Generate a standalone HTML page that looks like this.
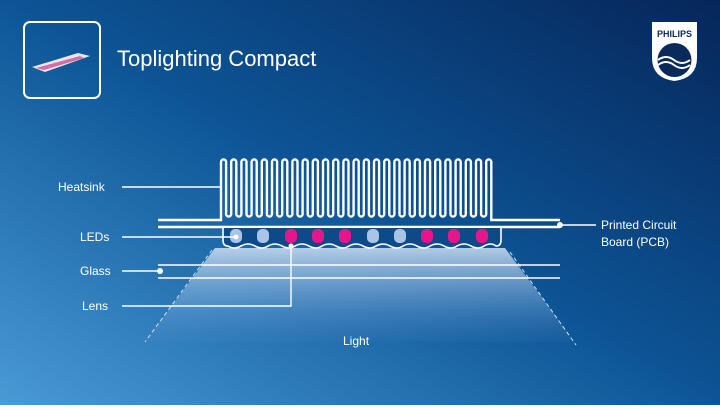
<!DOCTYPE html>
<html><head><meta charset="utf-8"><style>
html,body{margin:0;padding:0}
body{width:720px;height:405px;overflow:hidden;font-family:"Liberation Sans",sans-serif}
</style></head><body>
<svg width="720" height="405" viewBox="0 0 720 405" xmlns="http://www.w3.org/2000/svg">
<defs>
<linearGradient id="bg" x1="1" y1="0" x2="0" y2="1">
<stop offset="0" stop-color="#06265a"/>
<stop offset="0.5" stop-color="#0d5596"/>
<stop offset="1" stop-color="#4a9ad6"/>
</linearGradient>
<linearGradient id="lt" x1="0" y1="0" x2="0" y2="1">
<stop offset="0" stop-color="#dbe9f8" stop-opacity="0.8"/>
<stop offset="0.5" stop-color="#9cc0e6" stop-opacity="0.45"/>
<stop offset="1" stop-color="#6aa0d8" stop-opacity="0.05"/>
</linearGradient>
</defs>
<rect width="720" height="405" fill="url(#bg)"/>
<!-- title box -->
<rect x="24" y="22" width="76" height="76" rx="6" fill="none" stroke="#fff" stroke-width="2"/>
<polygon points="32,67 78,53 90,56 45,72" fill="#e8e8ea"/>
<polygon points="36,68 80,56 84,58 44,70" fill="#d86aa8"/>
<text x="117" y="66" fill="#fff" font-size="22" font-weight="300">Toplighting Compact</text>
<!-- philips shield -->
<path d="M652,22 H697 V58 Q697,78 674.5,81 Q652,78 652,58 Z" fill="#fff"/>
<text x="674.5" y="37" fill="#0a2a5c" font-size="9" font-weight="bold" text-anchor="middle">PHILIPS</text>
<circle cx="674.5" cy="60" r="17" fill="#0a2a5c"/>
<path d="M658,60 q8,-6 16,0 t16,0 M658,65 q8,-6 16,0 t16,0" stroke="#fff" stroke-width="2" fill="none"/>
<!-- light cone -->
<polygon points="215,248 505,248 575,342 145,342" fill="url(#lt)"/>
<line x1="212" y1="250" x2="145" y2="342" stroke="#cfe0f3" stroke-width="1" stroke-dasharray="4,3"/>
<line x1="510" y1="252" x2="576" y2="345" stroke="#cfe0f3" stroke-width="1" stroke-dasharray="4,3"/>
<!-- heatsink + pcb -->
<path fill="none" stroke="#fff" stroke-width="2.4" d="M158,220 H221 V162
a2.55,2.55 0 0 1 5.1,0 v52 a2.55,2.55 0 0 0 5.1,0 v-52
a2.55,2.55 0 0 1 5.1,0 v52 a2.55,2.55 0 0 0 5.1,0 v-52
a2.55,2.55 0 0 1 5.1,0 v52 a2.55,2.55 0 0 0 5.1,0 v-52
a2.55,2.55 0 0 1 5.1,0 v52 a2.55,2.55 0 0 0 5.1,0 v-52
a2.55,2.55 0 0 1 5.1,0 v52 a2.55,2.55 0 0 0 5.1,0 v-52
a2.55,2.55 0 0 1 5.1,0 v52 a2.55,2.55 0 0 0 5.1,0 v-52
a2.55,2.55 0 0 1 5.1,0 v52 a2.55,2.55 0 0 0 5.1,0 v-52
a2.55,2.55 0 0 1 5.1,0 v52 a2.55,2.55 0 0 0 5.1,0 v-52
a2.55,2.55 0 0 1 5.1,0 v52 a2.55,2.55 0 0 0 5.1,0 v-52
a2.55,2.55 0 0 1 5.1,0 v52 a2.55,2.55 0 0 0 5.1,0 v-52
a2.55,2.55 0 0 1 5.1,0 v52 a2.55,2.55 0 0 0 5.1,0 v-52
a2.55,2.55 0 0 1 5.1,0 v52 a2.55,2.55 0 0 0 5.1,0 v-52
a2.55,2.55 0 0 1 5.1,0 v52 a2.55,2.55 0 0 0 5.1,0 v-52
a2.55,2.55 0 0 1 5.1,0 v52 a2.55,2.55 0 0 0 5.1,0 v-52
a2.55,2.55 0 0 1 5.1,0 v52 a2.55,2.55 0 0 0 5.1,0 v-52
a2.55,2.55 0 0 1 5.1,0 v52 a2.55,2.55 0 0 0 5.1,0 v-52
a2.55,2.55 0 0 1 5.1,0 v52 a2.55,2.55 0 0 0 5.1,0 v-52
a2.55,2.55 0 0 1 5.1,0 v52 a2.55,2.55 0 0 0 5.1,0 v-52
a2.55,2.55 0 0 1 5.1,0 v52 a2.55,2.55 0 0 0 5.1,0 v-52
a2.55,2.55 0 0 1 5.1,0 v52 a2.55,2.55 0 0 0 5.1,0 v-52
a2.55,2.55 0 0 1 5.1,0 v52 a2.55,2.55 0 0 0 5.1,0 v-52
a2.55,2.55 0 0 1 5.1,0 v52 a2.55,2.55 0 0 0 5.1,0 v-52
a2.55,2.55 0 0 1 5.1,0 v52 a2.55,2.55 0 0 0 5.1,0 v-52
a2.55,2.55 0 0 1 5.1,0 v52 a2.55,2.55 0 0 0 5.1,0 v-52
a2.55,2.55 0 0 1 5.1,0 v52 a2.55,2.55 0 0 0 5.1,0 v-52
a2.55,2.55 0 0 1 5.1,0 v52 a2.55,2.55 0 0 0 5.1,0 v-52
a2.55,2.55 0 0 1 5.1,0 V220 H560"/>
<line x1="158" y1="227" x2="560" y2="227" stroke="#fff" stroke-width="2.4"/>
<!-- LED housing with lens scallops -->
<path d="M223,228 V240 q0,6 5,6
q6,4 13,0 q7,-4 14,0 q7,4 13,0 q7,-4 14,0 q7,4 13,0 q7,-4 14,0 q7,4 13,0 q7,-4 14,0 q7,4 13,0 q7,-4 14,0
q7,4 13,0 q7,-4 14,0 q7,4 13,0 q7,-4 14,0 q7,4 13,0 q7,-4 14,0 q7,4 13,0 q7,-4 14,0 q7,4 13,0 q7,-4 12,0
q5,0 5,-6 V228" fill="#0c4a8a" stroke="#fff" stroke-width="1.6"/>
<g>
<rect x="230" y="229" width="12" height="14" rx="5" fill="#a9c4e6"/>
<rect x="257" y="229" width="12" height="14" rx="5" fill="#a9c4e6"/>
<rect x="285" y="229" width="12" height="14" rx="5" fill="#e4168a"/>
<rect x="312" y="229" width="12" height="14" rx="5" fill="#e4168a"/>
<rect x="339" y="229" width="12" height="14" rx="5" fill="#e4168a"/>
<rect x="367" y="229" width="12" height="14" rx="5" fill="#a9c4e6"/>
<rect x="394" y="229" width="12" height="14" rx="5" fill="#a9c4e6"/>
<rect x="421" y="229" width="12" height="14" rx="5" fill="#e4168a"/>
<rect x="448" y="229" width="12" height="14" rx="5" fill="#e4168a"/>
<rect x="476" y="229" width="12" height="14" rx="5" fill="#e4168a"/>
</g>
<!-- glass -->
<line x1="158" y1="265" x2="560" y2="265" stroke="#fff" stroke-width="1.6"/>
<line x1="158" y1="278" x2="560" y2="278" stroke="#fff" stroke-width="1.6"/>
<!-- callouts -->
<g stroke="#fff" stroke-width="1.4" fill="none">
<line x1="122" y1="187" x2="222" y2="187"/>
<line x1="122" y1="237" x2="236" y2="237"/>
<line x1="122" y1="271" x2="160" y2="271"/>
<polyline points="122,306 291,306 291,246"/>
<line x1="560" y1="225" x2="596" y2="225"/>
</g>
<g fill="#fff">
<circle cx="236" cy="237" r="2.5"/><circle cx="160" cy="271" r="3"/><circle cx="291" cy="246" r="2.5"/><circle cx="560" cy="225" r="3"/>
</g>
<g fill="#fff" font-size="12">
<text x="58" y="191">Heatsink</text>
<text x="80" y="241">LEDs</text>
<text x="80" y="275">Glass</text>
<text x="82" y="310">Lens</text>
<text x="601" y="229">Printed Circuit</text>
<text x="601" y="246">Board (PCB)</text>
<text x="343" y="345">Light</text>
</g>
</svg>
</body></html>
